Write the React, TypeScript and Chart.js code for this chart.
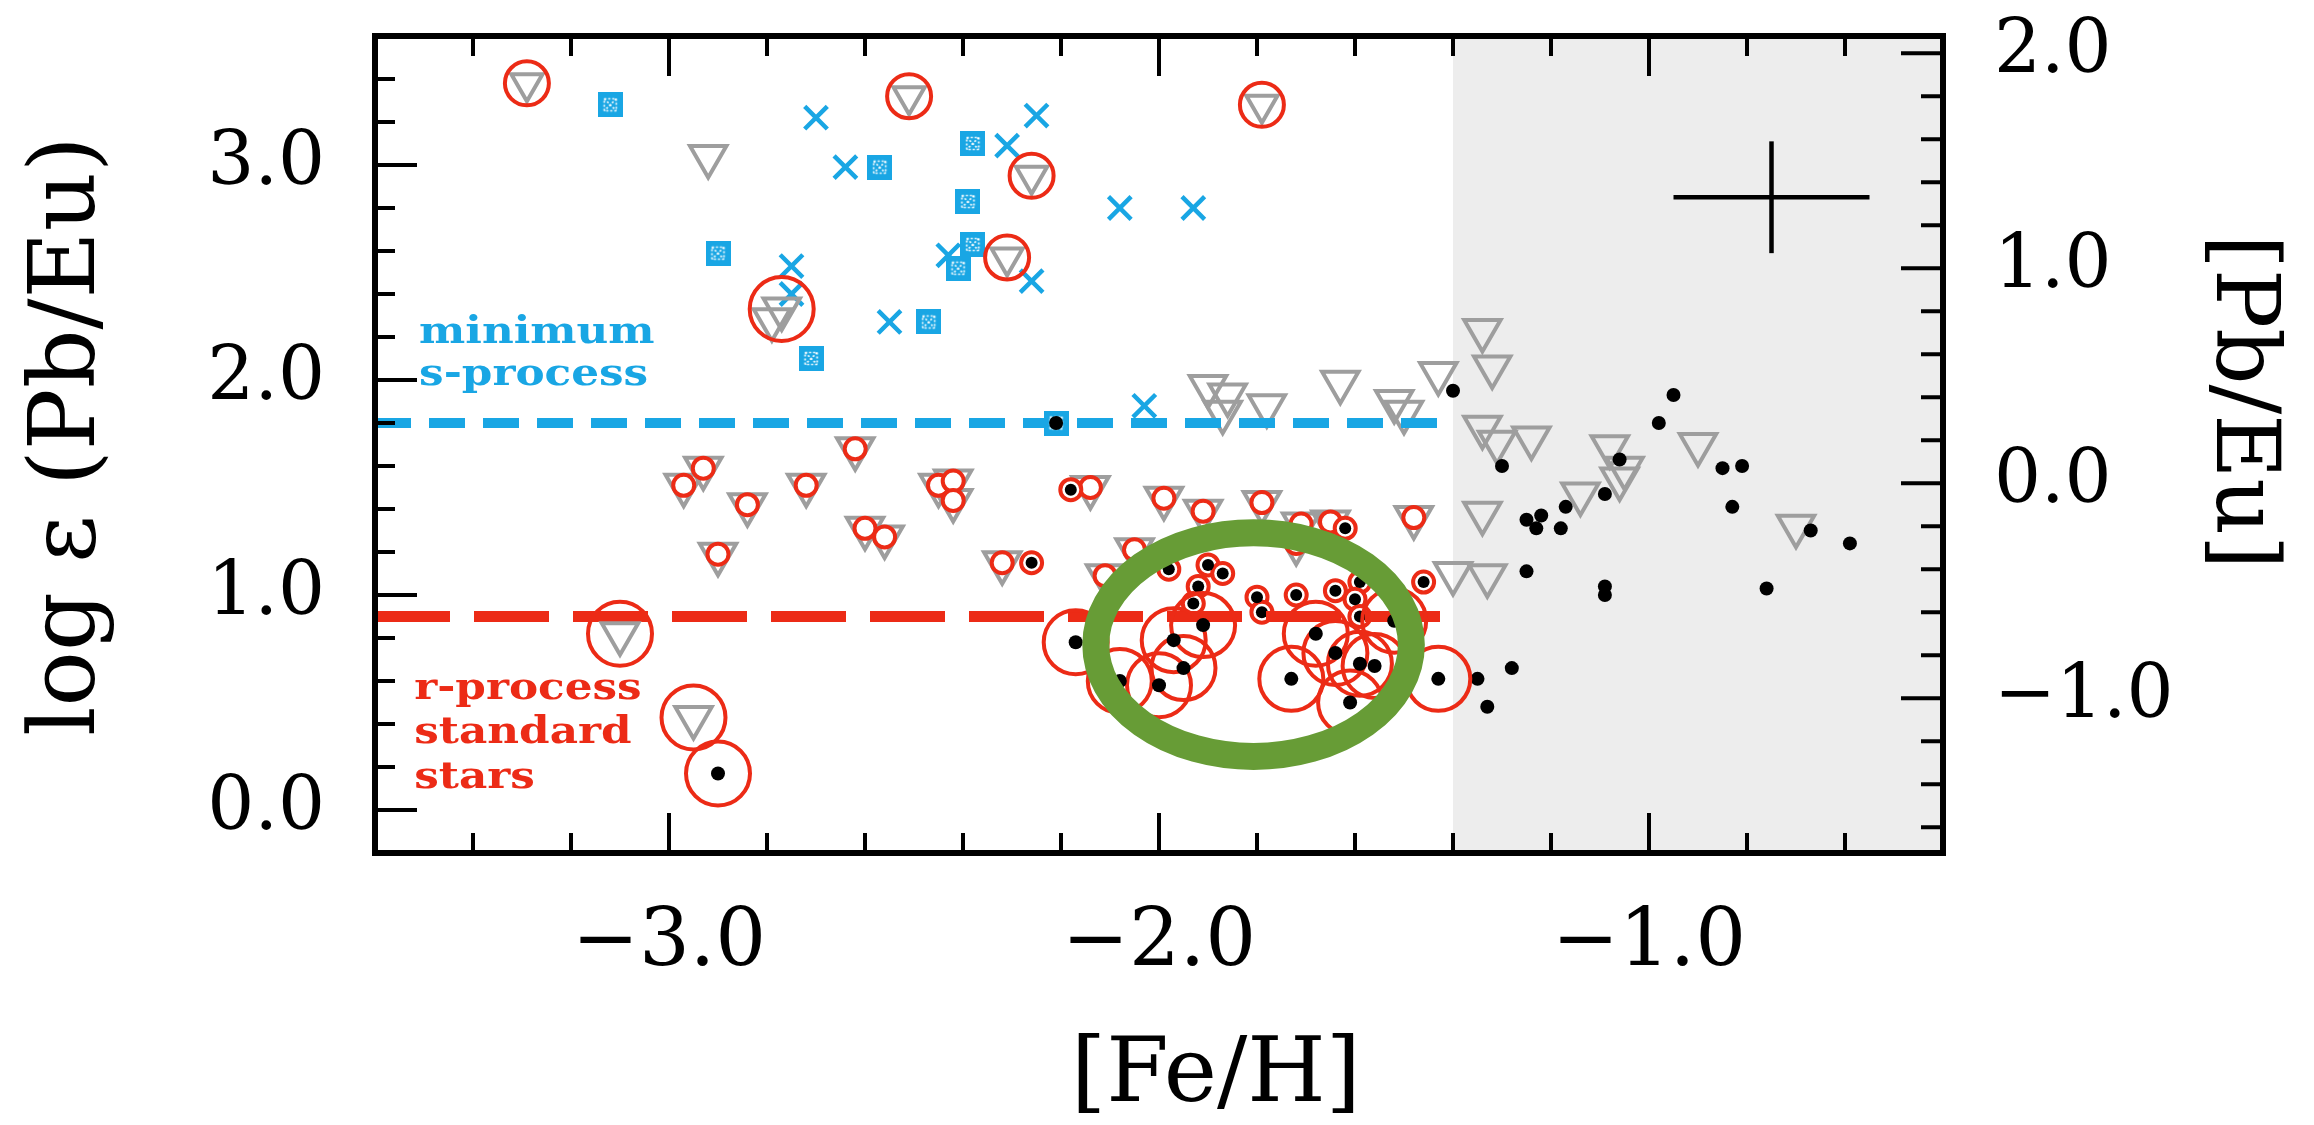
import React, { useEffect, useRef } from 'react';
import { Chart, registerables } from 'chart.js';

Chart.register(...registerables);

// ---------------- axes ----------------
const feHMin = -3.6;
const feHMax = -0.4;
const logEpsMin = -0.2;
const logEpsMax = 3.6;
const pbEuZeroPoint = 1.52; // [Pb/Eu] = log eps(Pb/Eu) - zero point
const xTickLabels = [-3.0, -2.0, -1.0];
const yTickLabels = [0.0, 1.0, 2.0, 3.0];
const y2TickLabels = [-1.0, 0.0, 1.0, 2.0];

const xTitle = '[Fe/H]';
const yTitle = 'log \u03b5 (Pb/Eu)';
const y2Title = '[Pb/Eu]';

// shaded metallicity range starts here
const shadedFrom = -1.4;

// reference levels
const sProcessMinLevel = 1.8;
const rProcessLevel = 0.9;
const levelLinesEnd = -1.4;

// typical error bar
const errorBarCenter = [-0.75, 2.85];
const errorBarX = 0.2;
const errorBarY = 0.26;

// highlight ellipse (data units)
const highlightCenter = [-1.807, 0.769];
const highlightRadii = [0.322, 0.52];

// annotations
const sLabelLines = ['minimum', 's-process'];
const sLabelAnchor = [-3.51, 2.174];
const rLabelLines = ['r-process', 'standard', 'stars'];
const rLabelAnchor = [-3.52, 0.518];

// ---------------- data: [Fe/H], log eps(Pb/Eu) ----------------
const sProcessCrosses = [
  [-2.70, 3.22], [-2.64, 2.99], [-2.31, 3.09], [-2.25, 3.23], [-2.08, 2.80], [-1.93, 2.80],
  [-2.75, 2.53], [-2.75, 2.40], [-2.55, 2.27], [-2.43, 2.58], [-2.26, 2.46], [-2.03, 1.88],
];

const sProcessSquares = [
  [-3.12, 3.28], [-2.57, 2.99], [-2.38, 3.10], [-2.39, 2.83], [-2.90, 2.59], [-2.38, 2.63],
  [-2.41, 2.52], [-2.47, 2.27], [-2.71, 2.10], [-2.21, 1.80],
];

const pbUpperLimits = [
  [-2.92, 3.04], [-2.79, 2.28], [-1.90, 1.97], [-1.86, 1.93], [-1.87, 1.85], [-1.78, 1.88],
  [-1.63, 1.99], [-1.52, 1.90], [-1.50, 1.85], [-1.43, 2.03], [-1.34, 2.23], [-1.32, 2.06],
  [-1.34, 1.78], [-1.31, 1.71], [-1.24, 1.73], [-1.08, 1.69], [-0.90, 1.70], [-1.05, 1.59],
  [-1.06, 1.54], [-1.14, 1.47], [-0.70, 1.32], [-1.34, 1.38], [-1.40, 1.10], [-1.33, 1.09],
];

const rStdLimitsHigh = [
  [-3.29, 3.38], [-2.51, 3.32], [-2.26, 2.95], [-2.31, 2.57], [-1.79, 3.28],
];

const rStdLimitsLow = [
  [-2.77, 2.33], [-3.10, 0.82], [-2.95, 0.43],
];

const rStdDetections = [
  [-2.17, 0.78], [-2.08, 0.60], [-2.00, 0.58], [-1.95, 0.66], [-1.97, 0.79], [-1.91, 0.86],
  [-1.73, 0.61], [-1.68, 0.82], [-1.64, 0.73], [-1.59, 0.68], [-1.56, 0.67], [-1.61, 0.50],
  [-1.52, 0.88], [-1.43, 0.61], [-2.90, 0.17],
];

const rLimits = [
  [-2.62, 1.68], [-2.93, 1.59], [-2.97, 1.51], [-2.84, 1.42], [-2.72, 1.51], [-2.90, 1.19],
  [-2.60, 1.31], [-2.56, 1.27], [-2.45, 1.51], [-2.42, 1.53], [-2.42, 1.44], [-2.32, 1.15],
  [-2.14, 1.50], [-1.99, 1.45], [-1.91, 1.39], [-1.79, 1.43], [-1.71, 1.33], [-1.72, 1.24],
  [-1.65, 1.34], [-1.48, 1.36], [-2.05, 1.21], [-2.11, 1.09],
];

const rDetections = [
  [-2.18, 1.49], [-2.26, 1.15], [-1.62, 1.31], [-1.98, 1.12], [-1.90, 1.14], [-1.87, 1.10],
  [-1.92, 1.04], [-1.93, 0.96], [-1.80, 0.99], [-1.79, 0.92], [-1.72, 1.00], [-1.46, 1.06],
  [-1.59, 1.06], [-1.60, 0.98], [-1.59, 0.90], [-1.64, 1.02],
];

const otherStars = [
  [-1.40, 1.95], [-0.95, 1.93], [-0.98, 1.80], [-1.30, 1.60], [-1.06, 1.63], [-0.85, 1.59],
  [-0.81, 1.60], [-0.83, 1.41], [-1.09, 1.47], [-1.17, 1.41], [-1.22, 1.37], [-1.25, 1.35],
  [-1.23, 1.31], [-1.18, 1.31], [-0.67, 1.30], [-0.59, 1.24], [-1.25, 1.11], [-1.09, 1.04],
  [-1.09, 1.00], [-0.76, 1.03], [-1.35, 0.61], [-1.28, 0.66], [-1.33, 0.48], [-2.21, 1.80],
];

// ---------------- styles ----------------
const BLUE = '#19A6E4';
const RED = '#EC2B16';
const GRAY = '#9E9E9E';
const SHADE = '#EDEDED';
const GREEN = '#679C36';
const SERIF = '"DejaVu Serif", "Liberation Serif", serif';

const toPts = (arr: number[][]) => arr.map(([x, y]) => ({ x, y }));

const steps = (from: number, to: number, step: number) => {
  const out: number[] = [];
  for (let v = from; v <= to + 1e-9; v += step) out.push(Math.round(v * 10) / 10);
  return out;
};
const xAxisTicks = steps(-3.4, -0.6, 0.2);
const yAxisTicks = steps(0.0, 3.4, 0.2);
const y2AxisTicks = steps(-1.6, 2.0, 0.2);
const isMajor = (v: number) => Math.abs(v - Math.round(v)) < 1e-6;

const fmt = (v: number) => {
  const r = Math.round(v * 10) / 10;
  return (r < 0 ? '\u2212' : '') + Math.abs(r).toFixed(1);
};

function makeSquareMarker(color: string) {
  const s = 25;
  const c = document.createElement('canvas');
  c.width = s;
  c.height = s;
  const g = c.getContext('2d')!;
  g.fillStyle = color;
  g.fillRect(0, 0, s, s);
  g.strokeStyle = '#ffffff';
  g.lineWidth = 1.6;
  g.setLineDash([2, 2]);
  g.strokeRect(6.5, 6.5, 12, 12);
  g.beginPath();
  g.moveTo(6.5, 6.5);
  g.lineTo(18.5, 18.5);
  g.moveTo(18.5, 6.5);
  g.lineTo(6.5, 18.5);
  g.stroke();
  return c;
}

const noPad = (s: any) => {
  s.paddingTop = 0;
  s.paddingBottom = 0;
  s.paddingLeft = 0;
  s.paddingRight = 0;
};

const decorPlugin = {
  id: 'decor',
  beforeDatasetsDraw(chart: any) {
    const { ctx, chartArea: a, scales } = chart;
    const gx = scales.x.getPixelForValue(shadedFrom);
    ctx.save();
    ctx.fillStyle = SHADE;
    ctx.fillRect(gx, a.top, a.right - gx, a.bottom - a.top);
    ctx.restore();
  },
  afterDatasetsDraw(chart: any) {
    const { ctx, chartArea: a, scales } = chart;
    const xs = scales.x;
    const ys = scales.y;
    const y2 = scales.y2;

    // highlight ellipse
    const cx = xs.getPixelForValue(highlightCenter[0]);
    const cy = ys.getPixelForValue(highlightCenter[1]);
    const rx = Math.abs(xs.getPixelForValue(highlightCenter[0] + highlightRadii[0]) - cx);
    const ry = Math.abs(ys.getPixelForValue(highlightCenter[1] + highlightRadii[1]) - cy);
    ctx.save();
    ctx.strokeStyle = GREEN;
    ctx.lineWidth = 27;
    ctx.beginPath();
    ctx.ellipse(cx, cy, rx, ry, 0, 0, Math.PI * 2);
    ctx.stroke();
    ctx.restore();

    // annotations (wide bold slab-like lettering)
    const drawBlock = (lines: string[], anchor: number[], gap: number, color: string) => {
      const px = xs.getPixelForValue(anchor[0]);
      const py = ys.getPixelForValue(anchor[1]);
      lines.forEach((t, i) => {
        ctx.save();
        ctx.font = 'bold 38px ' + SERIF;
        ctx.textAlign = 'left';
        ctx.textBaseline = 'alphabetic';
        ctx.fillStyle = color;
        ctx.translate(px, py + i * gap);
        ctx.scale(1.15, 1);
        ctx.fillText(t, 0, 0);
        ctx.restore();
      });
    };
    drawBlock(sLabelLines, sLabelAnchor, 42, BLUE);
    drawBlock(rLabelLines, rLabelAnchor, 44.5, RED);

    // ticks and frame
    ctx.save();
    ctx.strokeStyle = '#000';
    ctx.lineWidth = 4;
    ctx.beginPath();
    for (const v of xAxisTicks) {
      const p = xs.getPixelForValue(v);
      const len = isMajor(v) ? 40 : 20;
      ctx.moveTo(p, a.bottom);
      ctx.lineTo(p, a.bottom - len);
      ctx.moveTo(p, a.top);
      ctx.lineTo(p, a.top + len);
    }
    for (const v of yAxisTicks) {
      const p = ys.getPixelForValue(v);
      const len = isMajor(v) ? 42 : 20;
      ctx.moveTo(a.left, p);
      ctx.lineTo(a.left + len, p);
    }
    for (const v of y2AxisTicks) {
      const p = y2.getPixelForValue(v);
      const len = isMajor(v) ? 42 : 22;
      ctx.moveTo(a.right, p);
      ctx.lineTo(a.right - len, p);
    }
    ctx.stroke();
    ctx.lineWidth = 6;
    ctx.strokeRect(a.left, a.top, a.right - a.left, a.bottom - a.top);
    ctx.restore();
  },
  afterDraw(chart: any) {
    const { ctx } = chart;
    ctx.save();
    ctx.fillStyle = '#000';
    ctx.textAlign = 'center';
    ctx.font = '90px ' + SERIF;
    ctx.textBaseline = 'alphabetic';
    ctx.fillText(xTitle, 1216, 1101);

    ctx.textBaseline = 'middle';
    ctx.font = '92px ' + SERIF;
    ctx.translate(70, 436);
    ctx.rotate(-Math.PI / 2);
    ctx.fillText(yTitle, 0, 0);
    ctx.restore();

    ctx.save();
    ctx.fillStyle = '#000';
    ctx.textAlign = 'center';
    ctx.textBaseline = 'middle';
    ctx.font = '88px ' + SERIF;
    ctx.translate(2240, 402);
    ctx.rotate(Math.PI / 2);
    ctx.fillText(y2Title, 0, 0);
    ctx.restore();
  },
};

export default function App() {
  const ref = useRef<HTMLCanvasElement>(null);

  useEffect(() => {
    const canvas = ref.current;
    if (!canvas) return;
    const squareMarker = makeSquareMarker(BLUE);

    const scatter = (extra: any) => ({ showLine: false, ...extra });

    const datasets: any[] = [
      scatter({ label: 'std det dots', data: toPts(rStdDetections), order: 1, pointStyle: 'circle', pointRadius: 7, pointBorderWidth: 0, pointBackgroundColor: '#000' }),
      scatter({ label: 'std det circles', data: toPts(rStdDetections), order: 2, pointStyle: 'circle', pointRadius: 32, pointBorderWidth: 4, pointBorderColor: RED, pointBackgroundColor: 'rgba(0,0,0,0)' }),
      scatter({ label: 'std lim low circles', data: toPts(rStdLimitsLow), order: 3, pointStyle: 'circle', pointRadius: 32, pointBorderWidth: 4, pointBorderColor: RED, pointBackgroundColor: 'rgba(0,0,0,0)' }),
      scatter({ label: 'std lim high circles', data: toPts(rStdLimitsHigh), order: 4, pointStyle: 'circle', pointRadius: 22, pointBorderWidth: 4, pointBorderColor: RED, pointBackgroundColor: 'rgba(0,0,0,0)' }),
      scatter({ label: 'std lim low tri', data: toPts(rStdLimitsLow), order: 5, pointStyle: 'triangle', pointRotation: 180, pointRadius: 21, pointBorderWidth: 4, pointBorderColor: GRAY, pointBackgroundColor: 'rgba(0,0,0,0)' }),
      scatter({ label: 'std lim high tri', data: toPts(rStdLimitsHigh), order: 5, pointStyle: 'triangle', pointRotation: 180, pointRadius: 18, pointBorderWidth: 4, pointBorderColor: GRAY, pointBackgroundColor: 'rgba(0,0,0,0)' }),
      { label: 'r level', type: 'scatter', showLine: true, data: [{ x: feHMin, y: rProcessLevel }, { x: levelLinesEnd, y: rProcessLevel }], order: 6, borderColor: RED, borderWidth: 11, borderDash: [75, 24], pointRadius: 0, borderCapStyle: 'butt' },
      scatter({ label: 'r det dots', data: toPts(rDetections), order: 7, pointStyle: 'circle', pointRadius: 6, pointBorderWidth: 0, pointBackgroundColor: '#000' }),
      scatter({ label: 'r det circles', data: toPts(rDetections), order: 8, pointStyle: 'circle', pointRadius: 10.5, pointBorderWidth: 4, pointBorderColor: RED, pointBackgroundColor: '#fff' }),
      scatter({ label: 'r lim circles', data: toPts(rLimits), order: 9, pointStyle: 'circle', pointRadius: 10.5, pointBorderWidth: 4, pointBorderColor: RED, pointBackgroundColor: '#fff' }),
      scatter({ label: 'r lim tri', data: toPts(rLimits), order: 10, pointStyle: 'triangle', pointRotation: 180, pointRadius: 21, pointBorderWidth: 4, pointBorderColor: GRAY, pointBackgroundColor: 'rgba(0,0,0,0)' }),
      scatter({ label: 'other', data: toPts(otherStars), order: 11, pointStyle: 'circle', pointRadius: 7, pointBorderWidth: 0, pointBackgroundColor: '#000' }),
      scatter({ label: 's squares', data: toPts(sProcessSquares), order: 12, pointStyle: squareMarker, pointRadius: 12 }),
      scatter({ label: 's crosses', data: toPts(sProcessCrosses), order: 13, pointStyle: 'crossRot', pointRadius: 16, pointBorderWidth: 4.5, pointBorderColor: BLUE }),
      { label: 's level', type: 'scatter', showLine: true, data: [{ x: feHMin, y: sProcessMinLevel }, { x: levelLinesEnd, y: sProcessMinLevel }], order: 14, borderColor: BLUE, borderWidth: 10, borderDash: [36, 18], pointRadius: 0, borderCapStyle: 'butt' },
      scatter({ label: 'limits', data: toPts(pbUpperLimits), order: 15, pointStyle: 'triangle', pointRotation: 180, pointRadius: 21, pointBorderWidth: 4, pointBorderColor: GRAY, pointBackgroundColor: 'rgba(0,0,0,0)' }),
      { label: 'err x', type: 'scatter', showLine: true, data: [{ x: errorBarCenter[0] - errorBarX, y: errorBarCenter[1] }, { x: errorBarCenter[0] + errorBarX, y: errorBarCenter[1] }], order: 16, borderColor: '#000', borderWidth: 4.5, pointRadius: 0 },
      { label: 'err y', type: 'scatter', showLine: true, data: [{ x: errorBarCenter[0], y: errorBarCenter[1] - errorBarY }, { x: errorBarCenter[0], y: errorBarCenter[1] + errorBarY }], order: 16, borderColor: '#000', borderWidth: 4.5, pointRadius: 0 },
    ];

    const chart = new Chart(canvas, {
      type: 'scatter',
      data: { datasets },
      plugins: [decorPlugin],
      options: {
        animation: false,
        responsive: false,
        devicePixelRatio: 1,
        events: [],
        layout: { padding: { top: 28, left: 0, right: 0, bottom: 0 } },
        plugins: { legend: { display: false }, tooltip: { enabled: false }, title: { display: false } },
        scales: {
          x: {
            type: 'linear',
            position: 'bottom',
            min: feHMin,
            max: feHMax,
            grid: { display: false },
            border: { display: false },
            afterBuildTicks: (s: any) => { s.ticks = xTickLabels.map((v) => ({ value: v })); },
            afterFit: (s: any) => { s.height = 272; noPad(s); },
            ticks: { callback: (v: any) => fmt(Number(v)), font: { family: SERIF, size: 80 }, color: '#000', padding: 35, maxRotation: 0, autoSkip: false },
          },
          y: {
            type: 'linear',
            position: 'left',
            min: logEpsMin,
            max: logEpsMax,
            grid: { display: false },
            border: { display: false },
            afterBuildTicks: (s: any) => { s.ticks = yTickLabels.map((v) => ({ value: v })); },
            afterFit: (s: any) => { s.width = 375; noPad(s); },
            ticks: { callback: (v: any) => fmt(Number(v)), font: { family: SERIF, size: 74 }, color: '#000', padding: 42, autoSkip: false },
          },
          y2: {
            type: 'linear',
            position: 'right',
            min: logEpsMin - pbEuZeroPoint,
            max: logEpsMax - pbEuZeroPoint,
            grid: { display: false },
            border: { display: false },
            afterBuildTicks: (s: any) => { s.ticks = y2TickLabels.map((v) => ({ value: v })); },
            afterFit: (s: any) => { s.width = 371; noPad(s); },
            ticks: { callback: (v: any) => fmt(Number(v)), font: { family: SERIF, size: 74 }, color: '#000', padding: 43, autoSkip: false },
          },
        },
      } as any,
    });

    return () => chart.destroy();
  }, []);

  return (
    <div style={{ position: 'absolute', left: 0, top: 0, width: 2314, height: 1125, background: '#fff' }}>
      <canvas ref={ref} width={2314} height={1125} style={{ display: 'block', width: 2314, height: 1125 }} />
    </div>
  );
}
